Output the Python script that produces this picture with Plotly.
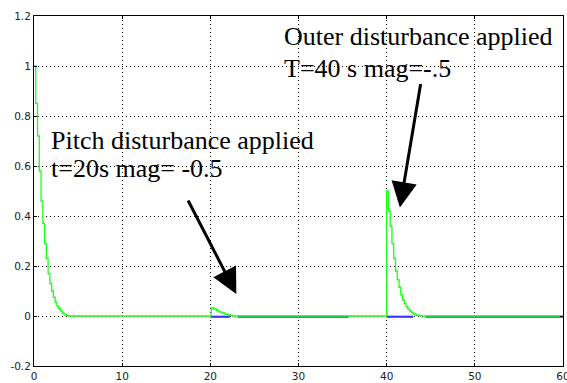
import plotly.graph_objects as go

# --- data ---
green_t = [0, 0.2, 0.4, 0.6, 0.8, 1.0, 1.2, 1.4, 1.6, 1.8, 2.0, 2.2, 2.4, 2.6, 2.8, 3.0, 3.2, 3.4, 3.6, 3.8,
           20.0, 20.1, 20.4, 20.7, 21.0, 21.3, 21.6, 21.9, 22.2, 22.5,
           40.0, 40.2, 40.4, 40.6, 40.8, 41.0, 41.2, 41.4, 41.6, 41.8, 42.0, 42.2, 42.4, 42.6, 42.8, 43.0,
           43.2, 43.4, 43.6, 43.8, 60.0]
green_y = [1.0, 0.85, 0.72, 0.58, 0.46, 0.37, 0.29, 0.23, 0.17, 0.13, 0.10, 0.075, 0.055, 0.04, 0.03, 0.02,
           0.012, 0.006, 0.003, 0.0,
           0.0, 0.032, 0.028, 0.022, 0.016, 0.012, 0.008, 0.005, 0.003, 0.0,
           0.5, 0.42, 0.36, 0.29, 0.23, 0.18, 0.145, 0.115, 0.085, 0.065, 0.05, 0.037, 0.027, 0.02, 0.015,
           0.01, 0.006, 0.003, 0.0015, 0.0, 0.0]

blue_t = [20.0, 22.2, None, 23.1, 35.7, None, 40.0, 43.0, None, 44.4, 60.0]
blue_y = [-0.003, -0.003, None, -0.003, -0.003, None, -0.003, -0.003, None, -0.003, -0.003]

x_ticks = [0, 10, 20, 30, 40, 50, 60]
y_ticks = [-0.2, 0, 0.2, 0.4, 0.6, 0.8, 1, 1.2]
y_tick_text = ["-0.2", "0", "0.2", "0.4", "0.6", "0.8", "1", "1.2"]

outer_lines = ["Outer disturbance applied", "T=40 s mag=-.5"]
pitch_lines = ["Pitch disturbance applied", "t=20s mag= -0.5"]

fig = go.Figure()
fig.add_trace(go.Scatter(x=blue_t, y=blue_y, mode="lines",
                         line=dict(color="#3838ff", width=2.2), connectgaps=False))
fig.add_trace(go.Scatter(x=green_t, y=green_y, mode="lines", line_shape="hv",
                         line=dict(color="#1aff1a", width=1.3)))

axis_common = dict(showline=True, linecolor="black", linewidth=1, mirror="ticks",
                   showgrid=True, gridcolor="black", griddash="1px,3px", gridwidth=1,
                   ticks="inside", ticklen=3, tickcolor="black", zeroline=False,
                   ticklabeloverflow="allow", automargin=False,
                   tickfont=dict(family="DejaVu Sans", size=10.5, color="#222"))

fig.update_xaxes(range=[0, 60], tickvals=x_ticks, **axis_common)
fig.update_yaxes(range=[-0.2, 1.2], tickvals=y_ticks, ticktext=y_tick_text, **axis_common)

serif = dict(family="Liberation Serif", size=26, color="black")

for txt, yv in zip(outer_lines, [1.1165, 0.992]):
    fig.add_annotation(x=28.1, y=yv, xref="x", yref="y", text=txt, showarrow=False,
                       xanchor="left", yanchor="middle", font=serif)
for txt, yv in zip(pitch_lines, [0.703, 0.590]):
    fig.add_annotation(x=1.75, y=yv, xref="x", yref="y", text=txt, showarrow=False,
                       xanchor="left", yanchor="middle", font=serif)

fig.add_annotation(x=22.95, y=0.088, xref="x", yref="y", ax=-49, ay=-95, text="",
                   showarrow=True, arrowhead=2, arrowsize=1.7, arrowwidth=3, arrowcolor="black")
fig.add_annotation(x=41.5, y=0.434, xref="x", yref="y", ax=21, ay=-125, text="",
                   showarrow=True, arrowhead=2, arrowsize=1.7, arrowwidth=3, arrowcolor="black")

fig.update_layout(width=567, height=383, margin=dict(l=34, r=4, t=16, b=17),
                  paper_bgcolor="white", plot_bgcolor="white", showlegend=False)

fig.write_html("out.html", config={"displayModeBar": False},
               post_script="document.body.style.margin='0';document.body.style.overflow='hidden';")
